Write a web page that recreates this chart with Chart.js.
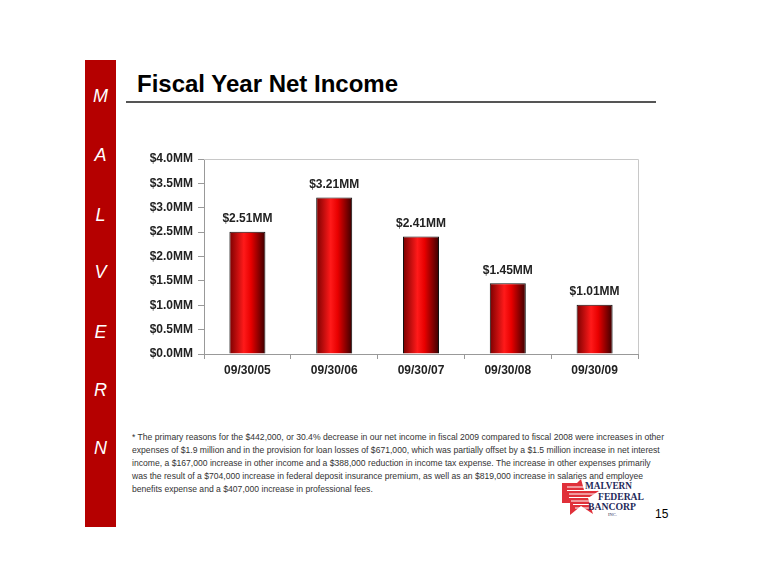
<!DOCTYPE html>
<html>
<head>
<meta charset="utf-8">
<script src="https://cdn.jsdelivr.net/npm/chart.js@4.4.0/dist/chart.umd.min.js"></script>
<style>
  body { margin: 0; background: #fff; font-family: "Liberation Sans", Arial, sans-serif; }
  #page { position: relative; width: 760px; height: 587px; overflow: hidden; }
  #sidebar { position: absolute; left: 85px; top: 60px; width: 31px; height: 467px; background: #b50000; }
  .letter { position: absolute; left: 0; width: 31px; text-align: center; color: #fff; font-style: italic; font-size: 18px; line-height: 20px; }
  #title { position: absolute; left: 137px; top: 70px; font-size: 24px; font-weight: bold; color: #000; }
  #rule { position: absolute; left: 126px; top: 101px; width: 530px; height: 2px; background: #555; }
  #chartBox { position: absolute; left: 130px; top: 140px; width: 530px; height: 250px; }
  #note { position: absolute; left: 132px; top: 431px; font-size: 8.6px; line-height: 13px; color: #333; white-space: nowrap; }
  #logo { position: absolute; left: 555px; top: 470px; width: 120px; height: 60px; }
  #pageNum { position: absolute; left: 655px; top: 507px; font-size: 12px; color: #000; }
</style>
</head>
<body>
<div id="page">
  <div id="sidebar"></div>
  <div id="title">Fiscal Year Net Income</div>
  <div id="rule"></div>
  <div id="chartBox"><canvas id="incomeChart" width="530" height="250"></canvas></div>
  <div id="note">* The primary reasons for the $442,000, or 30.4% decrease in our net income in fiscal 2009 compared to fiscal 2008 were increases in other<br>expenses of $1.9 million and in the provision for loan losses of $671,000, which was partially offset by a $1.5 million increase in net interest<br>income, a $167,000 increase in other income and a $388,000 reduction in income tax expense. The increase in other expenses primarily<br>was the result of a $704,000 increase in federal deposit insurance premium, as well as an $819,000 increase in salaries and employee<br>benefits expense and a $407,000 increase in professional fees.</div>
  <svg id="logo" viewBox="0 0 120 60">
    <polygon points="7,13 22,13 26,9 29,20 44,21 33,28 38,44 26,36 15,45 15,33 7,33" fill="#e0303a"/>
    <g stroke="#fff" stroke-width="1">
      <line x1="12" y1="17" x2="40" y2="17"/><line x1="12" y1="20.5" x2="42" y2="20.5"/>
      <line x1="14" y1="24" x2="42" y2="24"/><line x1="14" y1="27.5" x2="40" y2="27.5"/>
      <line x1="16" y1="31" x2="40" y2="31"/><line x1="18" y1="34.5" x2="40" y2="34.5"/>
      <line x1="20" y1="38" x2="40" y2="38"/>
    </g>
    <text x="30" y="19" textLength="47" lengthAdjust="spacingAndGlyphs" font-family="Liberation Serif, serif" font-weight="bold" font-size="11" fill="#1f2a5a">MALVERN</text>
    <text x="43" y="29.5" textLength="46" lengthAdjust="spacingAndGlyphs" font-family="Liberation Serif, serif" font-weight="bold" font-size="10.5" fill="#1f2a5a">FEDERAL</text>
    <text x="33" y="39.5" textLength="48" lengthAdjust="spacingAndGlyphs" font-family="Liberation Serif, serif" font-weight="bold" font-size="10.5" fill="#1f2a5a">BANCORP</text>
    <text x="53" y="45.5" font-family="Liberation Serif, serif" font-size="4.5" fill="#1f2a5a">INC.</text>
  </svg>
  <div id="pageNum">15</div>
</div>
<script>
// chart data
const categories = ['09/30/05', '09/30/06', '09/30/07', '09/30/08', '09/30/09'];
const netIncome = [2.51, 3.21, 2.41, 1.45, 1.01];
const sideLetters = ['M', 'A', 'L', 'V', 'E', 'R', 'N'];
const letterTops = [26, 85, 145, 202, 262, 320, 378];

// sidebar letters
const sidebar = document.getElementById('sidebar');
sideLetters.forEach((ch, i) => {
    const d = document.createElement('div');
    d.className = 'letter';
    d.style.top = letterTops[i] + 'px';
    d.textContent = ch;
    sidebar.appendChild(d);
});

const FONT = '"Liberation Sans", Arial, sans-serif';

// cylinder-ish horizontal gradient for each bar
function barGradient(context) {
    const chart = context.chart;
    if (!chart.chartArea || context.dataIndex === undefined) return '#e00000';
    const xs = chart.scales.x;
    const cx = xs.getPixelForValue(context.dataIndex);
    const half = (xs.width / categories.length) * 0.415 / 2;
    const g = chart.ctx.createLinearGradient(cx - half, 0, cx + half, 0);
    g.addColorStop(0, '#7a0000');
    g.addColorStop(0.4, '#ff1a1a');
    g.addColorStop(0.6, '#e80000');
    g.addColorStop(1, '#3a0000');
    return g;
}

// value labels above bars + plot border on top/right
const extras = {
    id: 'extras',
    beforeDatasetsDraw(chart) {
        const { ctx, chartArea } = chart;
        ctx.save();
        ctx.strokeStyle = '#c8c8c8';
        ctx.lineWidth = 1;
        ctx.beginPath();
        ctx.moveTo(chartArea.left, chartArea.top + 0.5);
        ctx.lineTo(chartArea.right + 0.5, chartArea.top + 0.5);
        ctx.lineTo(chartArea.right + 0.5, chartArea.bottom);
        ctx.stroke();
        ctx.restore();
    },
    afterDatasetsDraw(chart) {
        const { ctx } = chart;
        const meta = chart.getDatasetMeta(0);
        ctx.save();
        ctx.font = 'bold 12px ' + FONT;
        ctx.fillStyle = '#222';
        ctx.textAlign = 'center';
        ctx.textBaseline = 'middle';
        meta.data.forEach((bar, i) => {
            ctx.fillText('$' + netIncome[i].toFixed(2) + 'MM', bar.x, bar.y - 13);
        });
        ctx.restore();
    }
};

new Chart(document.getElementById('incomeChart').getContext('2d'), {
    type: 'bar',
    data: {
        labels: categories,
        datasets: [{
            data: netIncome,
            backgroundColor: barGradient,
            borderColor: '#111',
            borderWidth: 1,
            barPercentage: 0.415,
            categoryPercentage: 1
        }]
    },
    options: {
        responsive: false,
        animation: false,
        layout: { padding: { top: 19, right: 22, left: 0, bottom: 0 } },
        plugins: { legend: { display: false }, tooltip: { enabled: false } },
        scales: {
            y: {
                min: 0,
                max: 4,
                afterFit: (s) => { s.width = 74; },
                border: { color: '#999', width: 1 },
                grid: { drawOnChartArea: false, drawTicks: true, tickLength: 6, color: '#999' },
                ticks: {
                    stepSize: 0.5,
                    padding: 5,
                    color: '#222',
                    font: { family: FONT, size: 12, weight: 'bold' },
                    callback: (v) => '$' + Number(v).toFixed(1) + 'MM'
                }
            },
            x: {
                afterFit: (s) => { s.height = 36; },
                border: { color: '#999', width: 1 },
                grid: { drawOnChartArea: false, drawTicks: true, tickLength: 5, color: '#999' },
                ticks: {
                    padding: 4,
                    color: '#222',
                    font: { family: FONT, size: 12, weight: 'bold' }
                }
            }
        }
    },
    plugins: [extras]
});
</script>
</body>
</html>
